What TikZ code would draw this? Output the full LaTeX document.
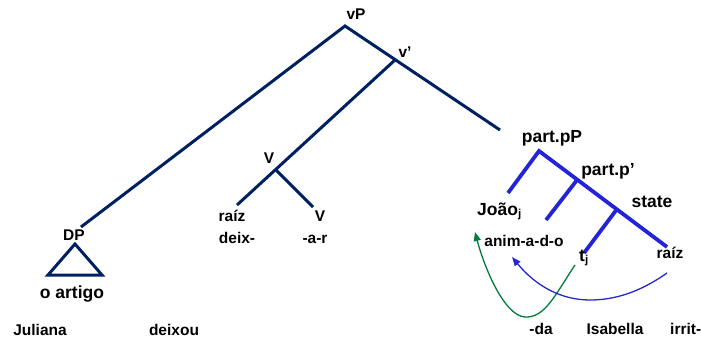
\documentclass[tikz,border=0pt]{standalone}
\usepackage{fontspec}
\setmainfont{Liberation Sans}
\usetikzlibrary{arrows.meta}
\definecolor{navy}{RGB}{0,32,96}
\definecolor{pblue}{RGB}{35,35,215}
\definecolor{agreen}{RGB}{0,125,60}
\definecolor{ablue}{RGB}{40,40,205}
\newcommand{\subj}{{\fontsize{11.5}{12}\selectfont\raisebox{-2.5pt}{j}}}
\begin{document}
\begin{tikzpicture}[x=1pt,y=-1pt,
  lbl/.style={font=\fontsize{15.5}{16}\selectfont\bfseries, anchor=base, inner sep=0pt},
  big/.style={font=\fontsize{17.5}{18}\selectfont\bfseries, anchor=base, inner sep=0pt},
  navyline/.style={draw=navy, line width=3pt},
  blueline/.style={draw=pblue, line width=3.8pt},
  garrow/.style={draw=agreen, line width=1.3pt, -{Triangle[length=9pt,width=7pt]}},
  barrow/.style={draw=ablue, line width=1.3pt, -{Triangle[length=9pt,width=7pt]}}]
\useasboundingbox (0,0) rectangle (701,337);
% main tree coordinates
\coordinate (vPtop) at (345,26);
\coordinate (DPend) at (81,227);
\coordinate (vbar) at (395,60);
\coordinate (pPend) at (500,130);
\coordinate (Vj) at (276,170);
\coordinate (raizLend) at (237,205);
\coordinate (VRend) at (313,207);
% triangle
\coordinate (tapex) at (75,244);
\coordinate (tbl) at (48,275);
\coordinate (tbr) at (102,275);
% part tree
\coordinate (pPtop) at (539,151);
\coordinate (joaoEnd) at (508,193);
\coordinate (raizREnd) at (667,247);
\coordinate (pbar) at (577,180);
\coordinate (animEnd) at (546,220);
\coordinate (stateJ) at (617,209);
\coordinate (tEnd) at (584,253);
% arrow ends
\coordinate (gstart) at (575,265);
\coordinate (gbot) at (525,317);
\coordinate (gtip) at (475,232);
\coordinate (bstart) at (667,273);
\coordinate (bbot) at (590,300);
\coordinate (btip) at (512,257);

\draw[navyline] (DPend) -- (vPtop) -- (pPend);
\draw[navyline] (vbar) -- (raizLend);
\draw[navyline] (Vj) -- (VRend);
\draw[navyline, line join=miter] (tapex) -- (tbl) -- (tbr) -- cycle;

\draw[blueline] (joaoEnd) -- (pPtop) -- (raizREnd);
\draw[blueline] (pbar) -- (animEnd);
\draw[blueline] (stateJ) -- (tEnd);

\draw[garrow] (gstart) .. controls (555,295) and (545,318) .. (gbot) .. controls (505,316) and (485,270) .. (gtip);
\draw[barrow] (bstart) .. controls (640,292) and (615,300) .. (bbot) .. controls (560,300) and (535,285) .. (btip);

% labels
\node[lbl] (vP) at (356,20) {vP};
\node[lbl] (vb) at (405,58) {v’};
\node[lbl] (Vup) at (269,163) {V};
\node[lbl] (raizL) at (232,221) {raíz};
\node[lbl] (Vlow) at (320,221) {V};
\node[lbl] (deix) at (237,243) {deix-};
\node[lbl] (ar) at (315,243) {-a-r};
\node[lbl] (DP) at (74,240) {DP};
\node[big] (oartigo) at (72,298) {o artigo};
\node[lbl] (juliana) at (40,335) {Juliana};
\node[lbl] (deixou) at (174,335) {deixou};
\node[big] (partpP) at (552,142) {part.pP};
\node[big] (partp) at (608,175) {part.p’};
\node[big] (state) at (652,207) {state};
\node[big, anchor=base west] (joao) at (477,215) {João\subj};
\node[lbl] (anim) at (524,246) {anim-a-d-o};
\node[big, anchor=base west] (tj) at (579,261) {t\subj};
\node[lbl] (raizR) at (670,258) {raíz};
\node[lbl] (da) at (541,334) {-da};
\node[lbl] (isabella) at (615,334) {Isabella};
\node[lbl, anchor=base west] (irrit) at (670,334) {irrit-};
\end{tikzpicture}
\end{document}
